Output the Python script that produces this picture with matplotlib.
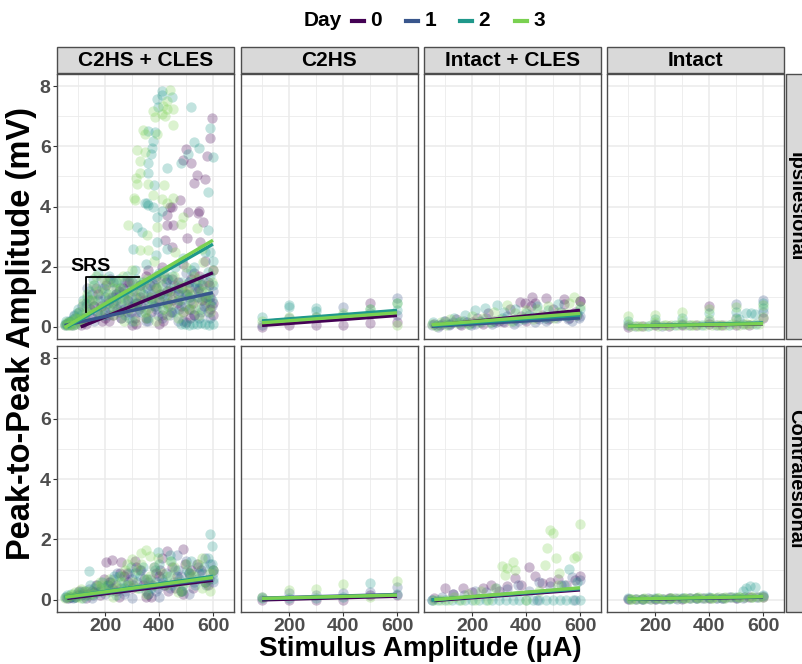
import matplotlib
matplotlib.use('Agg')
import matplotlib.pyplot as plt
from matplotlib.patches import Rectangle
from matplotlib.lines import Line2D

# ---- data ----
days = ['0', '1', '2', '3']
col_names = ['C2HS + CLES', 'C2HS', 'Intact + CLES', 'Intact']
row_names = ['Ipsilesional', 'Contralesional']

# C2HS + CLES, ipsilesional
a_x = [
    [110, 130, 150, 170, 190, 210, 230, 250, 270, 290, 310, 330, 350, 370, 390, 410, 430, 450, 470, 490,
     510, 530, 550, 570, 590, 600, 600, 580, 560, 520, 480, 440, 400, 360, 320, 280, 240, 200, 160, 120,
     598, 589, 500, 490, 519, 579, 540, 570, 528, 479, 441, 509, 549, 447, 428, 546, 564, 428, 453, 422,
     502, 447, 552,
     140, 165, 185, 205, 225, 245, 265, 285, 305, 325, 345, 365, 385, 405, 425, 445, 465, 485, 505, 525,
     545, 565, 585, 600, 215, 315, 415, 515],
    [50, 60, 70, 80, 100, 120, 140, 160, 180, 200, 220, 240, 260, 280, 300, 320, 340, 360, 380, 400,
     420, 440, 460, 480, 500, 520, 540, 560, 580, 600, 590, 550, 510, 470, 430, 390, 350, 310, 270, 230,
     55, 65, 75, 90, 105, 130, 150, 175, 195, 215, 235, 255, 275, 295, 315, 335, 355, 375, 395, 415,
     435, 455, 475, 495, 515, 535, 555, 575, 595],
    [50, 60, 75, 90, 110, 130, 150, 170, 190, 210, 230, 250, 270, 290, 310, 330, 350, 370, 390, 410,
     430, 450, 470, 490, 510, 530, 550, 570, 590, 600, 480, 495, 510, 525, 540, 555, 570, 585, 600, 360,
     300, 240,
     410, 391, 410, 447, 398, 519, 361, 385, 379, 373, 370, 361, 361, 382, 348, 361, 428, 589, 530, 549,
     509, 480, 599, 580, 410, 354, 379, 391, 317, 336, 583, 391, 305, 589, 583,
     55, 70, 85, 100, 120, 140, 160, 180, 200, 220, 240, 260, 280, 300, 320, 340, 360, 380, 400, 420,
     440, 460, 480, 500, 520, 540, 560, 580, 600],
    [50, 65, 80, 95, 110, 125, 140, 160, 180, 200, 220, 240, 260, 280, 300, 320, 340, 360, 380, 400,
     420, 440, 460, 480, 500, 520, 540, 560, 580, 600, 590, 550, 510, 470, 430, 390, 350, 310, 270, 230,
     441, 428, 416, 379, 428, 453, 410, 422, 385, 451, 340, 348, 391, 320, 348, 330, 330, 314, 320, 361,
     419, 379, 309, 410, 428, 451, 311, 490, 286, 391, 480, 540, 354, 330, 361, 564,
     58, 72, 88, 105, 120, 135, 155, 175, 195, 215, 235, 255, 275, 295, 315, 335, 355, 375, 395, 415,
     435, 455, 475, 495, 515, 535, 555, 575, 595],
]
a_y = [
    [0.05, 0.1, 0.3, 0.5, 0.2, 0.8, 0.4, 1.2, 0.6, 1.5, 0.3, 1.0, 1.7, 0.5, 1.3, 2.0, 0.8, 1.6, 1.1, 2.1,
     0.6, 1.8, 1.3, 2.2, 1.0, 1.9, 0.4, 1.5, 0.9, 1.6, 0.7, 1.2, 0.9, 1.9, 0.8, 0.5, 1.1, 0.3, 0.7, 0.15,
     6.94, 6.27, 5.91, 5.54, 5.43, 5.69, 5.04, 4.90, 4.78, 4.23, 3.97, 3.83, 3.86, 3.99, 3.71, 3.77, 3.49,
     3.38, 3.38, 2.88, 2.94, 2.66, 2.83,
     0.9, 1.3, 0.7, 1.4, 1.0, 0.6, 1.3, 0.9, 1.2, 0.6, 0.9, 1.4, 0.7, 1.1, 1.5, 0.5, 0.8, 1.3, 1.1, 0.8,
     1.2, 0.7, 1.4, 0.8, 0.2, 0.1, 0.2, 0.3],
    [0.05, 0.1, 0.15, 0.05, 0.2, 0.3, 0.5, 0.7, 0.4, 1.0, 0.6, 1.3, 0.3, 0.9, 1.5, 0.5, 1.1, 0.2, 1.4, 0.8,
     1.7, 0.4, 1.2, 0.9, 1.8, 0.6, 1.0, 1.4, 0.5, 1.2, 0.8, 0.3, 1.5, 0.2, 1.6, 0.6, 0.2, 0.7, 1.1, 0.8,
     0.1, 0.2, 0.05, 0.3, 0.5, 0.8, 1.1, 0.9, 1.3, 0.4, 1.0, 0.7, 1.5, 0.5, 1.0, 0.7, 1.3, 0.9, 0.4, 1.1,
     0.7, 1.4, 0.6, 1.1, 0.9, 1.3, 0.5, 1.0, 0.7],
    [0.1, 0.05, 0.2, 0.1, 0.4, 0.7, 0.9, 0.5, 1.3, 1.1, 0.6, 1.6, 1.0, 0.7, 1.9, 1.2, 2.1, 0.9, 2.4, 1.4,
     2.6, 1.7, 0.9, 2.3, 1.5, 2.0, 1.0, 2.5, 1.7, 2.2, 0.1, 0.1, 0.08, 0.1, 0.1, 0.12, 0.1, 0.08, 0.1, 0.3,
     0.2, 1.5,
     7.85, 7.57, 7.71, 7.65, 7.29, 7.29, 6.52, 6.49, 6.16, 5.94, 5.74, 5.43, 5.10, 4.71, 4.13, 4.05, 5.27,
     6.60, 6.13, 5.94, 5.74, 5.44, 5.63, 4.47, 3.84, 4.10, 3.99, 3.66, 3.32, 3.16, 3.21, 2.82, 2.60, 2.49,
     1.83,
     0.2, 0.1, 0.35, 0.6, 0.9, 1.2, 1.4, 1.0, 0.7, 1.5, 1.1, 0.8, 1.7, 1.3, 0.8, 1.5, 1.2, 0.7, 1.8, 1.0,
     1.3, 2.0, 1.5, 1.1, 1.9, 1.3, 1.6, 1.0, 1.4],
    [0.08, 0.15, 0.05, 0.25, 0.3, 0.2, 0.6, 0.9, 0.4, 1.2, 0.8, 1.5, 0.5, 1.1, 1.9, 0.9, 1.4, 0.6, 2.2, 1.0,
     1.8, 0.7, 2.5, 1.3, 2.0, 0.8, 1.6, 2.6, 1.1, 1.9, 0.5, 0.4, 0.6, 0.3, 0.4, 0.2, 0.3, 0.2, 0.2, 0.4,
     7.87, 7.51, 7.35, 7.18, 7.24, 7.24, 7.07, 7.01, 6.96, 6.72, 6.54, 6.40, 6.40, 5.87, 5.80, 5.52, 5.10,
     4.95, 4.75, 4.75, 4.71, 4.39, 4.27, 4.25, 4.13, 4.28, 4.20, 3.66, 3.38, 3.32, 3.43, 3.27, 3.05, 2.55,
     2.55, 2.16,
     0.15, 0.05, 0.3, 0.5, 0.8, 1.1, 1.4, 1.2, 1.6, 1.0, 0.6, 1.3, 0.9, 1.5, 0.7, 1.1, 1.6, 0.9, 1.3, 0.6,
     1.2, 1.7, 0.9, 1.4, 1.1, 0.6, 1.2, 0.9, 1.5],
]
# more points of the dense low band in the same panel
a_x_more = [
    [125, 145, 175, 200, 220, 240, 260, 280, 300, 330, 350, 370, 390, 410, 430, 450, 470, 490, 510, 530,
     550, 570, 590, 300, 400, 500],
    [85, 115, 135, 160, 185, 210, 230, 250, 270, 290, 310, 330, 350, 370, 390, 410, 430, 450, 470, 490,
     510, 530, 550, 570, 590],
    [65, 80, 95, 115, 135, 155, 175, 195, 215, 235, 255, 275, 295, 315, 335, 355, 375, 395, 415, 435,
     455, 475, 495, 515, 535, 555, 575, 595],
    [62, 78, 92, 108, 128, 148, 168, 188, 208, 228, 248, 268, 288, 308, 328, 348, 368, 388, 408, 428,
     448, 468, 488, 508, 528, 548, 568, 588],
]
a_y_more = [
    [0.3, 0.6, 1.1, 0.5, 1.6, 0.9, 0.3, 1.5, 0.7, 1.4, 0.3, 1.0, 1.6, 0.4, 1.2, 0.9, 1.5, 0.5, 1.3, 0.4,
     1.7, 1.0, 0.6, 0.05, 0.1, 0.15],
    [0.4, 0.7, 1.3, 0.2, 1.6, 0.9, 1.5, 0.5, 1.2, 0.3, 0.8, 1.4, 0.6, 1.1, 1.7, 0.3, 1.0, 0.5, 1.3, 0.2,
     1.0, 0.4, 1.5, 0.8, 0.3],
    [0.15, 0.25, 0.45, 0.3, 1.0, 1.6, 1.8, 0.4, 1.7, 0.9, 1.3, 0.4, 1.0, 1.6, 0.5, 0.9, 1.5, 1.1, 0.6, 1.6,
     0.5, 1.2, 0.7, 1.0, 1.5, 0.6, 1.2, 0.9],
    [0.05, 0.2, 0.1, 0.2, 0.5, 0.9, 1.7, 0.7, 1.5, 1.3, 0.9, 1.7, 0.6, 1.2, 1.5, 0.5, 1.0, 1.3, 1.6, 0.8,
     1.0, 1.4, 0.5, 1.2, 1.7, 0.9, 1.4, 0.7],
]
# fit lines: (x start, x end, y start, y end) per day
a_fit = [(110, 600, 0.0, 1.8), (50, 600, 0.05, 1.14), (60, 600, 0.0, 2.75), (50, 600, -0.02, 2.88)]

# C2HS + CLES, contralesional
b_x = [
    [60, 90, 120, 150, 180, 210, 240, 270, 300, 330, 360, 390, 420, 450, 480, 510, 540, 570, 600, 260,
     225, 205, 430, 490, 350,
     75, 105, 135, 165, 195, 225, 255, 285, 315, 345, 375, 405, 435, 465, 495, 525, 555, 585],
    [55, 80, 110, 140, 170, 200, 230, 260, 290, 320, 350, 380, 410, 440, 470, 500, 530, 560, 590, 465,
     300, 400,
     65, 95, 125, 155, 185, 215, 245, 275, 305, 335, 365, 395, 425, 455, 485, 515, 545, 575, 600],
    [50, 75, 100, 130, 160, 190, 220, 250, 280, 310, 340, 370, 400, 430, 460, 490, 520, 550, 580, 600,
     590, 595, 398, 140,
     60, 85, 115, 145, 175, 205, 235, 265, 295, 325, 355, 385, 415, 445, 475, 505, 535, 565, 595],
    [52, 70, 95, 125, 155, 185, 215, 245, 275, 305, 335, 365, 395, 425, 455, 485, 515, 545, 575, 600,
     350, 335, 365, 280, 180,
     62, 90, 110, 140, 170, 200, 230, 260, 290, 320, 350, 380, 410, 440, 470, 500, 530, 560, 590],
]
b_y = [
    [0.05, 0.1, 0.2, 0.3, 0.15, 0.5, 0.3, 0.8, 0.4, 1.0, 0.2, 0.9, 0.5, 1.1, 0.3, 0.9, 1.2, 0.6, 1.0, 1.25,
     1.32, 1.25, 1.63, 1.68, 0.1,
     0.1, 0.3, 0.2, 0.5, 0.7, 0.4, 0.9, 0.6, 1.1, 0.7, 0.5, 1.0, 0.3, 0.8, 1.2, 0.4, 1.0, 0.7],
    [0.1, 0.05, 0.15, 0.35, 0.5, 0.2, 0.7, 0.4, 0.9, 0.6, 0.3, 1.1, 0.7, 0.4, 1.0, 1.3, 0.6, 0.9, 1.2, 1.5,
     0.05, 0.1,
     0.05, 0.2, 0.3, 0.15, 0.4, 0.6, 0.9, 0.3, 0.5, 1.0, 0.7, 0.4, 0.9, 0.6, 0.3, 0.8, 1.1, 0.5, 0.9],
    [0.1, 0.2, 0.25, 0.15, 0.4, 0.6, 0.3, 0.8, 0.5, 0.9, 1.1, 0.4, 1.2, 0.8, 1.0, 0.5, 1.3, 0.9, 1.4, 0.7,
     2.18, 1.77, 1.6, 0.95,
     0.15, 0.1, 0.3, 0.5, 0.25, 0.45, 0.8, 0.6, 1.1, 0.4, 0.7, 1.0, 0.6, 1.3, 0.7, 1.0, 0.5, 1.1, 1.2],
    [0.05, 0.15, 0.1, 0.3, 0.2, 0.5, 0.7, 0.4, 1.0, 0.6, 1.2, 0.8, 1.4, 0.5, 1.1, 0.3, 0.9, 1.2, 0.6, 1.0,
     1.65, 1.55, 1.45, 1.2, 0.6,
     0.1, 0.25, 0.35, 0.15, 0.45, 0.3, 0.55, 0.8, 0.5, 1.0, 0.7, 1.1, 0.9, 1.3, 0.6, 1.2, 0.8, 1.4, 0.9],
]
b_x_more = [
    [100, 160, 220, 280, 340, 400, 460, 520, 580, 130, 250, 370, 490, 310, 410],
    [70, 120, 180, 240, 300, 360, 420, 480, 540, 600, 150, 270, 390, 510, 570],
    [90, 150, 210, 270, 330, 390, 450, 510, 570, 120, 240, 360, 480, 600, 440],
    [80, 140, 200, 260, 320, 380, 440, 500, 560, 110, 230, 350, 470, 590, 300],
]
b_y_more = [
    [0.15, 0.25, 0.6, 0.9, 0.5, 0.8, 0.4, 1.0, 0.5, 0.05, 0.1, 0.1, 0.2, 1.3, 1.4],
    [0.1, 0.25, 0.3, 0.5, 0.7, 0.6, 0.5, 0.8, 0.7, 0.6, 0.05, 0.2, 0.3, 0.2, 1.4],
    [0.1, 0.2, 0.5, 0.4, 0.8, 0.6, 0.5, 0.9, 0.6, 0.05, 0.15, 0.2, 0.3, 1.0, 1.5],
    [0.2, 0.3, 0.35, 0.6, 0.4, 0.5, 0.8, 0.6, 0.4, 0.05, 0.1, 0.2, 0.25, 0.3, 1.35],
]
b_fit = [(60, 600, 0.05, 0.65), (55, 600, 0.08, 0.70), (50, 600, 0.09, 0.78), (52, 600, 0.09, 0.74)]

# C2HS, ipsilesional
c_x = [
    [100, 200, 300, 400, 500, 500, 600],
    [100, 200, 300, 400, 500, 600, 600],
    [100, 200, 200, 300, 300, 400, 500, 600, 600],
    [100, 200, 300, 400, 500, 600, 600],
]
c_y = [
    [0.0, 0.05, 0.06, 0.06, 0.78, 0.12, 0.17],
    [0.06, 0.3, 0.34, 0.67, 0.45, 0.97, 0.4],
    [0.34, 0.73, 0.65, 0.62, 0.54, 0.39, 0.58, 0.56, 0.78],
    [0.2, 0.34, 0.34, 0.45, 0.58, 0.78, 0.06],
]
c_fit = [(100, 600, 0.05, 0.38), (100, 600, 0.18, 0.52), (100, 600, 0.2, 0.55), (100, 600, 0.14, 0.47)]

# C2HS, contralesional
d_x = [
    [100, 200, 300, 400, 500, 600],
    [100, 200, 300, 400, 500, 600],
    [100, 200, 300, 400, 500, 600],
    [100, 200, 300, 400, 500, 600],
]
d_y = [
    [0.0, 0.0, 0.0, 0.0, 0.16, 0.16],
    [0.11, 0.22, 0.16, 0.22, 0.27, 0.42],
    [0.05, 0.05, 0.05, 0.1, 0.55, 0.2],
    [0.1, 0.33, 0.35, 0.52, 0.1, 0.64],
]
d_fit = [(100, 600, 0.0, 0.12), (100, 600, 0.06, 0.18), (100, 600, 0.04, 0.16), (100, 600, 0.05, 0.16)]

# Intact + CLES, ipsilesional
e_x = [
    [60, 100, 140, 180, 220, 260, 300, 340, 380, 420, 460, 500, 540, 580, 600, 421, 476, 540, 602, 378,
     396, 433,
     80, 120, 160, 200, 240, 280, 320, 360, 400, 440, 480, 520, 560, 590],
    [50, 90, 130, 170, 210, 250, 290, 330, 370, 410, 450, 490, 530, 570, 600,
     75, 115, 155, 195, 235, 275, 315, 355, 395, 435, 475, 515, 555, 595],
    [55, 95, 135, 175, 211, 248, 291, 320, 360, 400, 440, 480, 520, 560, 600,
     70, 110, 150, 190, 230, 270, 310, 350, 390, 430, 470, 510, 550, 590],
    [50, 85, 120, 160, 200, 240, 280, 328, 360, 400, 440, 480, 520, 560, 579, 600,
     65, 105, 145, 185, 225, 265, 305, 345, 385, 425, 465, 505, 545, 585],
]
e_y = [
    [0.1, 0.2, 0.25, 0.15, 0.3, 0.45, 0.2, 0.6, 0.35, 0.7, 0.4, 0.6, 0.75, 0.5, 0.85, 1.0, 0.97, 0.94,
     0.86, 0.84, 0.8, 0.78,
     0.05, 0.1, 0.05, 0.15, 0.1, 0.2, 0.15, 0.25, 0.2, 0.3, 0.25, 0.35, 0.3, 0.4],
    [0.05, 0.1, 0.15, 0.2, 0.1, 0.3, 0.15, 0.35, 0.2, 0.4, 0.25, 0.3, 0.5, 0.2, 0.35,
     0.0, 0.05, 0.1, 0.05, 0.15, 0.1, 0.2, 0.1, 0.25, 0.15, 0.2, 0.3, 0.25, 0.3],
    [0.15, 0.2, 0.3, 0.4, 0.56, 0.62, 0.73, 0.5, 0.6, 0.45, 0.7, 0.55, 0.75, 0.4, 0.6,
     0.05, 0.1, 0.15, 0.1, 0.2, 0.15, 0.3, 0.2, 0.25, 0.35, 0.3, 0.4, 0.35, 0.45],
    [0.1, 0.15, 0.25, 0.2, 0.35, 0.3, 0.5, 0.73, 0.45, 0.55, 0.6, 0.7, 0.5, 0.8, 1.0, 0.7,
     0.02, 0.08, 0.12, 0.1, 0.18, 0.15, 0.25, 0.2, 0.3, 0.28, 0.35, 0.3, 0.45, 0.4],
]
e_fit = [(60, 600, 0.05, 0.55), (50, 600, 0.02, 0.30), (55, 600, 0.05, 0.40), (50, 600, 0.07, 0.45)]

# Intact + CLES, contralesional
f_x = [
    [60, 100, 130, 168, 200, 240, 270, 300, 330, 359, 380, 411, 433, 460, 490, 520, 550, 580, 600],
    [50, 90, 130, 170, 210, 250, 290, 330, 370, 410, 450, 490, 530, 570, 600, 440, 580],
    [50, 75, 100, 125, 150, 175, 200, 225, 250, 275, 300, 325, 350, 375, 400, 425, 450, 475, 500, 525,
     550, 575, 600, 560, 590, 540],
    [60, 85, 110, 135, 160, 185, 210, 235, 260, 285, 310, 331, 350, 359, 322, 470, 479, 489, 501, 510,
     522, 579, 590, 600, 400, 450, 520],
]
f_y = [
    [0.05, 0.39, 0.2, 0.38, 0.25, 0.4, 0.5, 0.3, 0.45, 0.72, 0.5, 1.10, 0.8, 0.55, 0.6, 0.7, 0.5, 0.65, 0.8],
    [0.0, 0.1, 0.2, 0.15, 0.3, 0.25, 0.4, 0.35, 0.5, 0.3, 0.6, 0.45, 0.5, 0.75, 0.65, 0.0, 0.0],
    [0, 0, 0, 0, 0, 0, 0, 0, 0, 0, 0, 0, 0, 0, 0, 0, 0, 0, 0, 0, 0, 0, 0, 1.01, 0.6, 0.5],
    [0, 0, 0, 0.1, 0, 0.2, 0, 0.3, 0, 0.4, 1.12, 1.04, 1.27, 0.99, 0.83, 1.14, 1.71, 2.32, 2.23, 1.38,
     0.88, 1.38, 1.46, 2.52, 0.0, 0.3, 0.5],
]
f_fit = [(60, 600, -0.02, 0.33), (50, 600, 0.0, 0.36), (50, 600, 0.0, 0.38), (60, 600, 0.01, 0.40)]

# Intact, ipsilesional
g_x = [
    [100, 200, 300, 400, 500, 600, 150, 250, 350, 450, 550, 400],
    [100, 200, 300, 400, 500, 600, 125, 225, 325, 425, 525, 500, 600],
    [100, 200, 300, 400, 500, 600, 175, 275, 375, 475, 575, 513, 538, 557, 569, 600],
    [100, 200, 300, 400, 500, 600, 100, 200, 300, 400, 500, 600, 140, 240, 340, 440, 540,
     110, 135, 160, 185, 210, 235, 260, 285, 310, 335, 360, 385, 410, 435, 460, 485, 510, 535, 560, 585],
]
g_y = [
    [0.0, 0.05, 0.05, 0.1, 0.08, 0.3, 0.02, 0.03, 0.05, 0.06, 0.08, 0.70],
    [0.05, 0.1, 0.1, 0.2, 0.3, 0.5, 0.03, 0.04, 0.06, 0.07, 0.09, 0.75, 0.91],
    [0.2, 0.25, 0.3, 0.45, 0.5, 0.62, 0.03, 0.05, 0.06, 0.08, 0.1, 0.28, 0.45, 0.47, 0.43, 0.81],
    [0.36, 0.39, 0.50, 0.58, 0.65, 0.73, 0.1, 0.15, 0.2, 0.28, 0.28, 0.34, 0.04, 0.05, 0.06, 0.08, 0.1,
     0.03, 0.04, 0.03, 0.05, 0.04, 0.05, 0.06, 0.05, 0.06, 0.07, 0.06, 0.07, 0.08, 0.07, 0.08, 0.09, 0.08,
     0.09, 0.1, 0.1],
]
g_fit = [(100, 600, 0.02, 0.10), (100, 600, 0.03, 0.12), (100, 600, 0.03, 0.13), (100, 600, 0.03, 0.11)]

# Intact, contralesional
h_x = [
    [100, 150, 200, 250, 300, 350, 400, 450, 500, 550, 600],
    [125, 175, 225, 275, 325, 375, 425, 475, 525, 575, 600,
     105, 130, 155, 180, 205, 230, 255, 280, 305, 330, 355, 380, 405, 430, 455, 480, 505, 530, 555, 580],
    [100, 150, 200, 250, 300, 350, 400, 450, 500, 526, 538, 551, 569, 600],
    [110, 160, 210, 260, 310, 360, 410, 460, 510, 560, 600,
     110, 135, 160, 185, 210, 235, 260, 285, 310, 335, 360, 385, 410, 435, 460, 485, 510, 535, 560, 585],
]
h_y = [
    [0.02, 0.04, 0.03, 0.05, 0.04, 0.06, 0.05, 0.07, 0.06, 0.08, 0.1],
    [0.03, 0.05, 0.04, 0.06, 0.05, 0.07, 0.06, 0.08, 0.07, 0.09, 0.12,
     0.02, 0.03, 0.02, 0.04, 0.03, 0.04, 0.05, 0.04, 0.05, 0.06, 0.05, 0.06, 0.07, 0.06, 0.07, 0.08, 0.07,
     0.08, 0.09, 0.09],
    [0.05, 0.03, 0.06, 0.04, 0.07, 0.05, 0.08, 0.06, 0.1, 0.31, 0.39, 0.47, 0.44, 0.15],
    [0.04, 0.06, 0.05, 0.07, 0.06, 0.08, 0.07, 0.09, 0.08, 0.1, 0.11,
     0.02, 0.03, 0.04, 0.03, 0.05, 0.04, 0.05, 0.06, 0.05, 0.06, 0.07, 0.06, 0.07, 0.08, 0.07, 0.08, 0.09,
     0.08, 0.09, 0.1],
]
h_fit = [(100, 600, 0.02, 0.09), (100, 600, 0.02, 0.10), (100, 600, 0.03, 0.11), (100, 600, 0.03, 0.11)]

# SRS bracket in the first panel
srs_x = [129, 129, 327]
srs_y = [0.5, 1.66, 1.66]

# ---- styling ----
FONT = 'Liberation Sans'
plt.rcParams['font.family'] = [FONT, 'DejaVu Sans']
plt.rcParams['font.weight'] = 'bold'

cmap = plt.get_cmap('viridis')
colors = [cmap(v) for v in (0.0, 0.267, 0.533, 0.8)]

W, H = 802, 664
fig = plt.figure(figsize=(W / 100, H / 100), dpi=100)


def frac(left, top, w, h):
    return [left / W, 1 - (top + h) / H, w / W, h / H]


col_left = [57, 241, 424, 607]
col_w = 177
row_top = [74, 346]
row_h = [265, 266]
panels = [[(a_x, a_y, a_fit), (c_x, c_y, c_fit), (e_x, e_y, e_fit), (g_x, g_y, g_fit)],
          [(b_x, b_y, b_fit), (d_x, d_y, d_fit), (f_x, f_y, f_fit), (h_x, h_y, h_fit)]]
extra = {(0, 0): (a_x_more, a_y_more), (1, 0): (b_x_more, b_y_more)}
border = '#4D4D4D'

for r in range(2):
    for c in range(4):
        ax = fig.add_axes(frac(col_left[c], row_top[r], col_w, row_h[r]))
        xs, ys, fits = panels[r][c]
        for d in range(4):
            px, py = list(xs[d]), list(ys[d])
            if (r, c) in extra:
                px += extra[(r, c)][0][d]
                py += extra[(r, c)][1][d]
            ax.scatter(px, py, s=55, color=colors[d], alpha=0.27, linewidths=0, zorder=2)
        for d in range(4):
            x0, x1, y0, y1 = fits[d]
            ax.plot([x0, x1], [y0, y1], color=colors[d], lw=2.4, solid_capstyle='butt', zorder=3)
        if r == 0 and c == 0:
            ax.plot(srs_x, srs_y, color='black', lw=1.3, zorder=4)
            ax.text(147, 2.02, 'SRS', ha='center', va='center', fontsize=14, fontweight='bold', zorder=4)
        ax.set_xlim(22, 678)
        ax.set_ylim(-0.4, 8.4)
        ax.set_xticks([200, 400, 600])
        ax.set_xticks([100, 300, 500], minor=True)
        ax.set_yticks([0, 2, 4, 6, 8])
        ax.set_yticks([1, 3, 5, 7], minor=True)
        ax.grid(which='major', color='#EBEBEB', lw=1.1)
        ax.grid(which='minor', color='#EBEBEB', lw=0.6)
        ax.set_axisbelow(True)
        ax.tick_params(which='minor', length=0)
        ax.tick_params(which='major', length=3, width=0.8, color='#333333', labelsize=14,
                       labelcolor='#4D4D4D', pad=1.5)
        ax.tick_params(left=(c == 0), labelleft=(c == 0), bottom=(r == 1), labelbottom=(r == 1))
        for sp in ax.spines.values():
            sp.set_color(border)
            sp.set_linewidth(1.0)

        # top strips
        if r == 0:
            fig.add_artist(Rectangle((col_left[c] / W, 1 - 73 / H), col_w / W, 26 / H,
                                     transform=fig.transFigure, facecolor='#D9D9D9',
                                     edgecolor=border, lw=1.0))
            fig.text((col_left[c] + col_w / 2) / W, 1 - 60 / H, col_names[c], ha='center',
                     va='center', fontsize=15, fontweight='bold', color='black')

    # right strips (the reference is cropped through them)
    fig.add_artist(Rectangle((786 / W, 1 - (row_top[r] + row_h[r]) / H), 30 / W, row_h[r] / H,
                             transform=fig.transFigure, facecolor='#D9D9D9', edgecolor=border,
                             lw=1.0, clip_on=False))
    fig.text(796 / W, 1 - (row_top[r] + row_h[r] / 2) / H, row_names[r], rotation=-90,
             ha='center', va='center', fontsize=14.5, fontweight='bold', color='black')

# legend at top
fig.text(323 / W, 1 - 21 / H, 'Day', ha='center', va='center', fontsize=15, fontweight='bold')
key_x = [352, 406, 460, 515]
for d in range(4):
    fig.add_artist(Line2D([key_x[d] / W, (key_x[d] + 12) / W], [1 - 21 / H, 1 - 21 / H],
                          transform=fig.transFigure, color=colors[d], lw=3))
    fig.text((key_x[d] + 24) / W, 1 - 21 / H, days[d], ha='center', va='center',
             fontsize=15, fontweight='bold')

fig.text(420 / W, 1 - 649 / H, 'Stimulus Amplitude (μA)', ha='center', va='center',
         fontsize=20, fontweight='bold', color='black')
fig.text(22 / W, 1 - 333 / H, 'Peak-to-Peak Amplitude (mV)', ha='center', va='center',
         rotation=90, fontsize=23.5, fontweight='bold', color='black')

fig.savefig('out.png', dpi=100)
